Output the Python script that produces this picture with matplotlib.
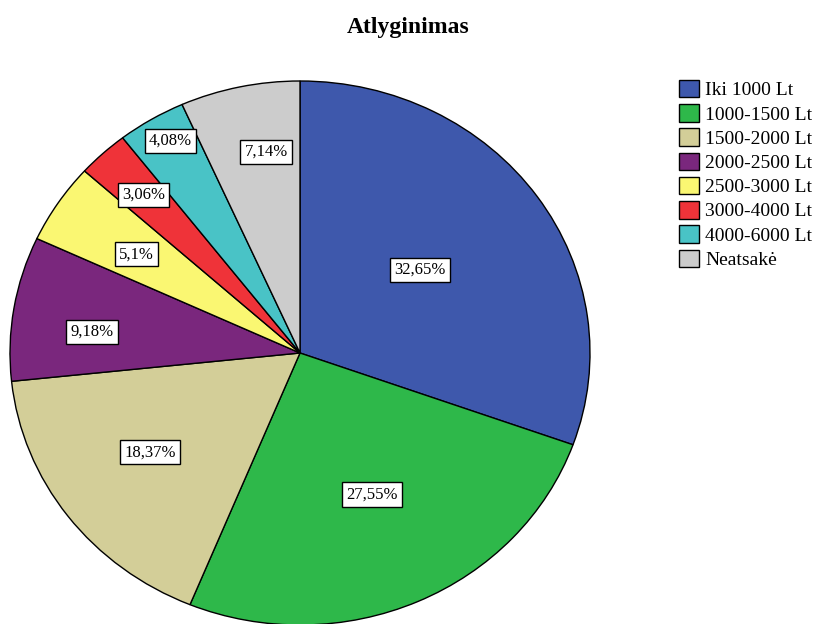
import numpy as np
import matplotlib
matplotlib.use('Agg')
import matplotlib.pyplot as plt

plt.rcParams['font.family'] = ['Liberation Serif', 'DejaVu Serif']

# Salary groups and their shares (%)
categories = ['Iki 1000 Lt', '1000-1500 Lt', '1500-2000 Lt', '2000-2500 Lt',
              '2500-3000 Lt', '3000-4000 Lt', '4000-6000 Lt', 'Neatsakė']
percents = [32.65, 27.55, 18.37, 9.18, 5.1, 3.06, 4.08, 7.14]
label_text = ['32,65%', '27,55%', '18,37%', '9,18%', '5,1%', '3,06%', '4,08%', '7,14%']

colors = ['#3E58AC', '#2EB84A', '#D3CE98', '#7A277D',
          '#FAF772', '#EF3339', '#49C3C6', '#CCCCCC']
# where the value boxes sit: fraction of radius, and a nudge off the wedge middle (deg)
label_r = [0.513, 0.576, 0.632, 0.721, 0.670, 0.792, 0.899, 0.749]
label_nudge = [1.3, 1.5, -1.6, 3.3, 0.6, 0.0, -1.1, -3.0]

fig = plt.figure(figsize=(8.15, 6.24), dpi=100)
ax = fig.add_axes([10 / 815, -1 / 624, 580 / 815, 544 / 624])

wedges, _ = ax.pie(percents, colors=colors, startangle=90, counterclock=False,
                   wedgeprops={'edgecolor': 'black', 'linewidth': 1.0})
ax.set_aspect('auto')
ax.set_xlim(-1, 1)
ax.set_ylim(-1, 1)
ax.axis('off')

for w, txt, r, d in zip(wedges, label_text, label_r, label_nudge):
    mid = np.deg2rad((w.theta1 + w.theta2) / 2 + d)
    ax.text(r * np.cos(mid), r * np.sin(mid), txt, ha='center', va='center',
            fontsize=12,
            bbox=dict(boxstyle='square,pad=0.25', facecolor='white',
                      edgecolor='black', linewidth=1.0))

fig.text(408 / 815, 1 - 27 / 624, 'Atlyginimas', ha='center', va='center',
         fontsize=17, fontweight='bold')

fig.legend(wedges, categories, loc='upper left', bbox_to_anchor=(679 / 815, 1 - 80 / 624),
           frameon=False, fontsize=14, handlelength=1.05, handleheight=1.0,
           handletextpad=0.3, labelspacing=0.25, borderpad=0, borderaxespad=0)

fig.savefig('out.png', dpi=100)
